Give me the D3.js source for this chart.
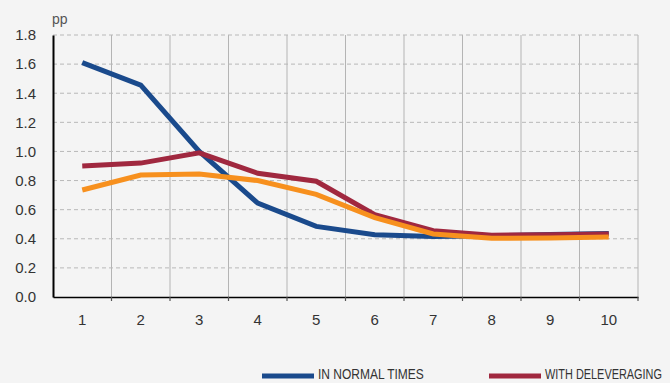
<!DOCTYPE html>
<html>
<head>
<meta charset="utf-8">
<script src="https://cdn.jsdelivr.net/npm/d3@7"></script>
<style>
  body { margin: 0; background: #f4f4f4; }
  svg { display: block; font-family: "Liberation Sans", Arial, sans-serif; }
</style>
</head>
<body>
<svg id="chart" width="670" height="383"></svg>
<script>
const periods = [1, 2, 3, 4, 5, 6, 7, 8, 9, 10];
const normalTimes = [1.61, 1.455, 1.0, 0.645, 0.485, 0.428, 0.415, 0.42, 0.43, 0.437];
const withDeleveraging = [0.90, 0.92, 0.99, 0.85, 0.795, 0.565, 0.455, 0.425, 0.428, 0.433];
const thirdSeries = [0.735, 0.838, 0.845, 0.80, 0.705, 0.545, 0.433, 0.403, 0.405, 0.412];
const yTicks = [0, 0.2, 0.4, 0.6, 0.8, 1.0, 1.2, 1.4, 1.6, 1.8];

const margin = {top: 35, right: 32, bottom: 86, left: 53},
    width = 670 - margin.left - margin.right,
    height = 383 - margin.top - margin.bottom;

const svg = d3.select("#chart");
const chart = svg.append("g")
    .attr("transform", `translate(${margin.left}, ${margin.top})`);

const x = d3.scaleBand().domain(periods).range([0, width]);
const y = d3.scaleLinear().domain([0, 1.8]).range([height, 0]);

// vertical grid at band edges
chart.append("g")
    .selectAll("line")
    .data(periods)
    .enter().append("line")
    .attr("x1", d => x(d) + x.bandwidth())
    .attr("x2", d => x(d) + x.bandwidth())
    .attr("y1", 0)
    .attr("y2", height)
    .attr("stroke", "#b4b4b4")
    .attr("stroke-width", 1);

// horizontal dashed grid
chart.append("g")
    .selectAll("line")
    .data(yTicks.filter(d => d > 0))
    .enter().append("line")
    .attr("x1", 0)
    .attr("x2", width)
    .attr("y1", d => y(d))
    .attr("y2", d => y(d))
    .attr("stroke", "#b8b8b8")
    .attr("stroke-dasharray", "4,3");

// y axis
const yAxis = chart.append("g")
    .call(d3.axisLeft(y).tickValues(yTicks).tickFormat(d3.format(".1f")).tickSize(0).tickPadding(17));
yAxis.select(".domain").attr("stroke", "#000").attr("stroke-width", 2);
yAxis.selectAll("text").attr("font-size", 15).attr("fill", "#333");

// x axis
const xAxis = chart.append("g")
    .attr("transform", `translate(0, ${height})`)
    .call(d3.axisBottom(x).tickSize(0).tickPadding(17));
xAxis.select(".domain").attr("stroke", "#000").attr("stroke-width", 1.5);
xAxis.selectAll("text").attr("font-size", 15).attr("fill", "#333");

chart.append("g")
    .selectAll("line")
    .data(periods)
    .enter().append("line")
    .attr("x1", d => x(d) + x.bandwidth())
    .attr("x2", d => x(d) + x.bandwidth())
    .attr("y1", height)
    .attr("y2", height + 4)
    .attr("stroke", "#555")
    .attr("stroke-width", 1.2);

svg.append("text")
    .attr("x", 52)
    .attr("y", 24)
    .attr("font-size", 14)
    .attr("fill", "#555")
    .text("pp");

// lines
const line = d3.line()
    .x((d, i) => x(periods[i]) + x.bandwidth() / 2)
    .y(d => y(d));

const series = [
    {name: "IN NORMAL TIMES", values: normalTimes, color: "#1a4a8c"},
    {name: "WITH DELEVERAGING", values: withDeleveraging, color: "#a0283f"},
    {name: "", values: thirdSeries, color: "#f7901e"}
];

chart.selectAll(".series")
    .data(series)
    .enter().append("path")
    .attr("class", "series")
    .attr("d", d => line(d.values))
    .attr("fill", "none")
    .attr("stroke", d => d.color)
    .attr("stroke-width", 5);

// legend (narrow lettering, squeezed horizontally)
const legendItems = [
    {x: 262, len: 106},
    {x: 489, len: 117}
];
const legend = svg.append("g");
legendItems.forEach((p, i) => {
    legend.append("line")
        .attr("x1", p.x).attr("x2", p.x + 52)
        .attr("y1", 376).attr("y2", 376)
        .attr("stroke", series[i].color)
        .attr("stroke-width", 5);
    const t = legend.append("text")
        .attr("font-size", 14)
        .attr("fill", "#333")
        .text(series[i].name);
    const sx = p.len / t.node().getComputedTextLength();
    t.attr("transform", `translate(${p.x + 56}, 379) scale(${sx}, 1)`);
});
</script>
</body>
</html>
